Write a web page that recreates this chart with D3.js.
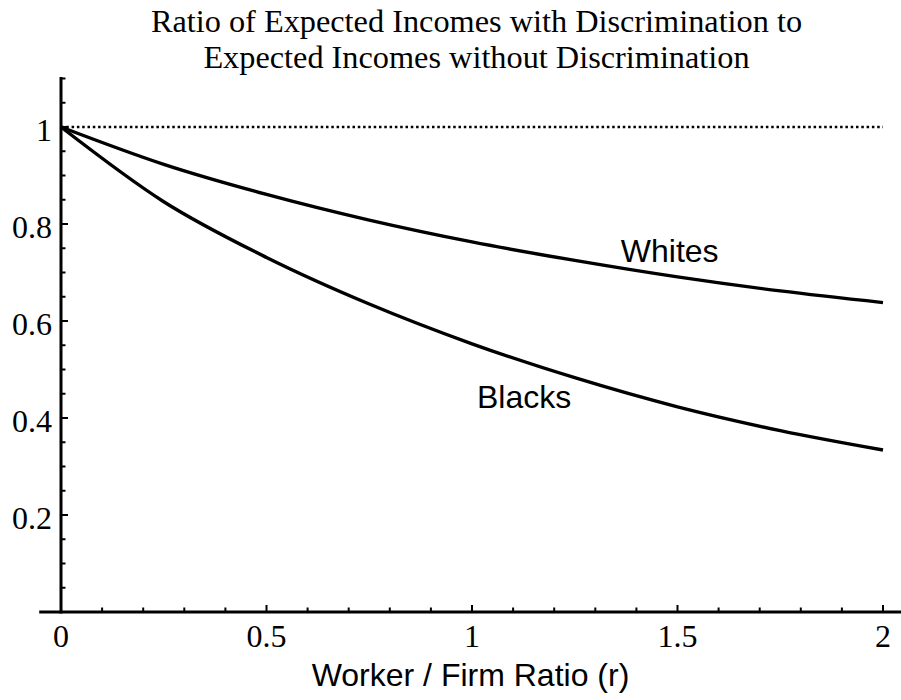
<!DOCTYPE html>
<html>
<head>
<meta charset="utf-8">
<script src="https://cdn.jsdelivr.net/npm/d3@7"></script>
<style>
  html, body { margin: 0; padding: 0; background: #fff; }
  svg { display: block; }
</style>
</head>
<body>
<svg id="chart" width="901" height="700"></svg>
<script>
// ---- data ----
const ratioR = [0, 0.25, 0.5, 0.75, 1.0, 1.25, 1.5, 1.75, 2.0];
const whitesValues = [1, 0.923, 0.861, 0.808, 0.763, 0.725, 0.691, 0.662, 0.638];
const blacksValues = [1, 0.846, 0.731, 0.635, 0.553, 0.483, 0.423, 0.374, 0.334];
const referenceLevel = [1, 1];
const referenceR = [0, 2];
const xTickLabels = ["0", "0.5", "1", "1.5", "2"];
const yTickLabels = ["0.2", "0.4", "0.6", "0.8", "1"];
const titleLines = ["Ratio of Expected Incomes with Discrimination to",
                    "Expected Incomes without Discrimination"];
const xAxisTitle = "Worker / Firm Ratio (r)";
const seriesLabels = [
  { name: "Whites", r: 1.362, v: 0.7216 },
  { name: "Blacks", r: 1.012, v: 0.4206 }
];

// ---- scales ----
const svg = d3.select("#chart");
const x = d3.scaleLinear().domain([0, 2]).range([61, 883]);
const y = d3.scaleLinear().domain([0, 1]).range([612, 127]);

const serif = "'Liberation Serif', 'Times New Roman', serif";
const sans = "'Liberation Sans', Arial, sans-serif";

// ---- title ----
const titleY = [32, 68];
titleLines.forEach((t, i) => {
  svg.append("text")
    .attr("x", 476.5).attr("y", titleY[i])
    .attr("text-anchor", "middle")
    .attr("font-family", serif)
    .attr("font-size", 32.3)
    .text(t);
});

// ---- axes ----
const axisG = svg.append("g");
axisG.append("line")
  .attr("x1", x(-0.053)).attr("x2", 901)
  .attr("y1", y(0)).attr("y2", y(0))
  .attr("stroke", "#000").attr("stroke-width", 3);
axisG.append("line")
  .attr("x1", x(0)).attr("x2", x(0))
  .attr("y1", y(0) + 1.5).attr("y2", y(1.103))
  .attr("stroke", "#000").attr("stroke-width", 3);

const xMinor = d3.range(1, 21).map(i => i / 10);
axisG.selectAll(".xt").data(xMinor).join("line")
  .attr("x1", d => x(d)).attr("x2", d => x(d))
  .attr("y1", y(0))
  .attr("y2", d => y(0) - (Math.abs(d * 2 - Math.round(d * 2)) < 1e-6 ? 7 : 4.5))
  .attr("stroke", "#000").attr("stroke-width", 2);

const yMinor = d3.range(1, 23).map(i => i / 20);
axisG.selectAll(".yt").data(yMinor).join("line")
  .attr("y1", d => y(d)).attr("y2", d => y(d))
  .attr("x1", x(0))
  .attr("x2", d => x(0) + (Math.abs(d * 5 - Math.round(d * 5)) < 1e-6 ? 7 : 4.5))
  .attr("stroke", "#000").attr("stroke-width", 2);

svg.selectAll(".xl").data(xTickLabels).join("text")
  .attr("x", d => x(+d)).attr("y", y(0) + 35)
  .attr("text-anchor", "middle")
  .attr("font-family", serif).attr("font-size", 32)
  .text(d => d);

svg.selectAll(".yl").data(yTickLabels).join("text")
  .attr("x", x(0) - 9).attr("y", d => y(+d) + 14)
  .attr("text-anchor", "end")
  .attr("font-family", serif).attr("font-size", 32)
  .text(d => d);

svg.append("text")
  .attr("x", 470.5).attr("y", 686)
  .attr("text-anchor", "middle")
  .attr("font-family", sans).attr("font-size", 32)
  .text(xAxisTitle);

// ---- reference dotted line ----
const refLine = d3.line().x((d, i) => x(referenceR[i])).y(d => y(d));
svg.append("path")
  .attr("d", refLine(referenceLevel))
  .attr("fill", "none").attr("stroke", "#000")
  .attr("stroke-width", 2.5).attr("stroke-dasharray", "2.5,2.8");

// ---- curves ----
const line = d3.line()
  .x((d, i) => x(ratioR[i]))
  .y(d => y(d))
  .curve(d3.curveMonotoneX);

[whitesValues, blacksValues].forEach(vals => {
  svg.append("path")
    .attr("d", line(vals))
    .attr("fill", "none").attr("stroke", "#000")
    .attr("stroke-width", 3.4).attr("stroke-linejoin", "round");
});

// ---- series labels ----
svg.selectAll(".sl").data(seriesLabels).join("text")
  .attr("x", d => x(d.r)).attr("y", d => y(d.v))
  .attr("font-family", sans).attr("font-size", 32)
  .text(d => d.name);
</script>
</body>
</html>
